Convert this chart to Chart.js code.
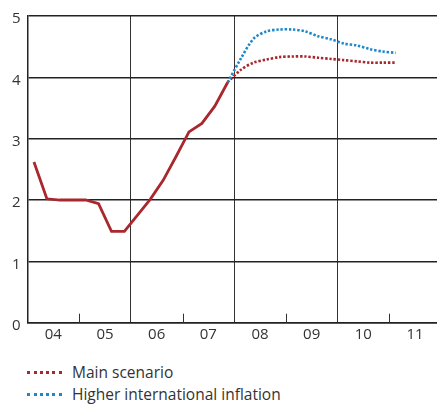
<!DOCTYPE html>
<html>
<head>
<meta charset="utf-8">
<script src="https://cdn.jsdelivr.net/npm/chart.js@4/dist/chart.umd.min.js"></script>
<style>
  body { margin: 0; background: #fff; font-family: 'Open Sans', sans-serif; color: #333; }
  #wrap { position: relative; width: 437px; height: 405px; }
  #chart { position: absolute; left: 0; top: 0; }
  .legend { position: absolute; left: 0; top: 361px; font-size: 15.5px; line-height: 22px; }
  .legend div { display: flex; align-items: center; }
  .legend span.swatch { display: inline-block; width: 35px; margin-left: 27px; margin-right: 10px; border-top: 3px dotted; }
</style>
</head>
<body>
<div id="wrap">
  <canvas id="chart" width="437" height="345"></canvas>
  <div class="legend">
    <div><span class="swatch" style="border-color:#a8282e"></span>Main scenario</div>
    <div><span class="swatch" style="border-color:#1f88c9"></span>Higher international inflation</div>
  </div>
</div>
<script>
// quarterly series, 2004 Q1 .. 2011 Q1
const quarters = [
  '04Q1','04Q2','04Q3','04Q4','05Q1','05Q2','05Q3','05Q4',
  '06Q1','06Q2','06Q3','06Q4','07Q1','07Q2','07Q3','07Q4',
  '08Q1','08Q2','08Q3','08Q4','09Q1','09Q2','09Q3','09Q4',
  '10Q1','10Q2','10Q3','10Q4','11Q1'
];
const actual = [2.62, 2.02, 2.0, 2.0, 2.0, 1.94, 1.49, 1.49,
  1.75, 2.01, 2.32, 2.71, 3.11, 3.25, 3.53, 3.92];
const mainScenario = [null, null, null, null, null, null, null, null,
  null, null, null, null, null, null, null, 3.92,
  4.12, 4.24, 4.29, 4.33, 4.34, 4.34, 4.32, 4.30,
  4.28, 4.26, 4.24, 4.24, 4.24];
const higherInflation = [null, null, null, null, null, null, null, null,
  null, null, null, null, null, null, null, 3.92,
  4.30, 4.63, 4.75, 4.78, 4.78, 4.75, 4.67, 4.62,
  4.55, 4.52, 4.46, 4.42, 4.40];
const years = ['04', '05', '06', '07', '08', '09', '10', '11'];
const yTicks = [0, 1, 2, 3, 4, 5];

// each quarter sits in the middle of its slot
function toPoints(arr) {
  return arr.map((v, i) => ({ x: i + 0.5, y: v })).filter(p => p.y !== null);
}

// short tick marks inside the plot at every other year boundary
const innerTicks = {
  id: 'innerTicks',
  beforeDatasetsDraw(chart) {
    const xs = chart.scales.x, ys = chart.scales.y;
    const c = chart.ctx;
    const base = ys.getPixelForValue(0);
    c.save();
    c.strokeStyle = '#333';
    c.lineWidth = 1;
    for (let q = 4; q < 32; q += 8) {
      const px = Math.round(xs.getPixelForValue(q)) + 0.5;
      c.beginPath();
      c.moveTo(px, base);
      c.lineTo(px, base - 9);
      c.stroke();
    }
    c.restore();
  }
};

new Chart(document.getElementById('chart'), {
  type: 'line',
  data: {
    datasets: [
      {
        label: 'Higher international inflation',
        data: toPoints(higherInflation),
        borderColor: '#1f88c9',
        borderWidth: 2.6,
        borderDash: [2.4, 1.8],
        pointRadius: 0,
        tension: 0.3,
        fill: false
      },
      {
        label: 'Main scenario',
        data: toPoints(mainScenario),
        borderColor: '#a8282e',
        borderWidth: 2.6,
        borderDash: [2.4, 1.8],
        pointRadius: 0,
        tension: 0.3,
        fill: false
      },
      {
        label: 'Actual',
        data: toPoints(actual),
        borderColor: '#a8282e',
        borderWidth: 2.8,
        pointRadius: 0,
        tension: 0,
        fill: false
      }
    ]
  },
  options: {
    responsive: false,
    animation: false,
    layout: { padding: { top: 15, right: 0, left: 0, bottom: 0 } },
    plugins: { legend: { display: false }, tooltip: { enabled: false } },
    scales: {
      x: {
        type: 'linear',
        min: 0,
        max: 31.7,
        afterBuildTicks: s => { s.ticks = []; for (let q = 0; q <= 30; q += 2) s.ticks.push({ value: q }); },
        afterFit: s => { s.height = 22.3; },
        grid: {
          drawTicks: false,
          color: c => (c.tick && c.tick.value > 0 && c.tick.value % 8 === 0) ? '#333' : 'rgba(0,0,0,0)',
          lineWidth: 1
        },
        border: { color: '#222', width: 1.5 },
        ticks: {
          padding: 3,
          maxRotation: 0,
          autoSkip: false,
          color: '#333',
          font: { family: 'Open Sans', size: 15 },
          callback: v => (v % 4 === 2 ? years[(v - 2) / 4] : '')
        }
      },
      y: {
        min: 0,
        max: 5,
        afterBuildTicks: s => { s.ticks = yTicks.map(v => ({ value: v })); },
        afterFit: s => { s.width = 27.5; },
        grid: { drawTicks: false, color: '#222', lineWidth: 1.4 },
        border: { color: '#222', width: 1.5 },
        ticks: {
          padding: 7,
          labelOffset: 3,
          color: '#333',
          font: { family: 'Open Sans', size: 15 }
        }
      }
    }
  },
  plugins: [innerTicks]
});
</script>
</body>
</html>
